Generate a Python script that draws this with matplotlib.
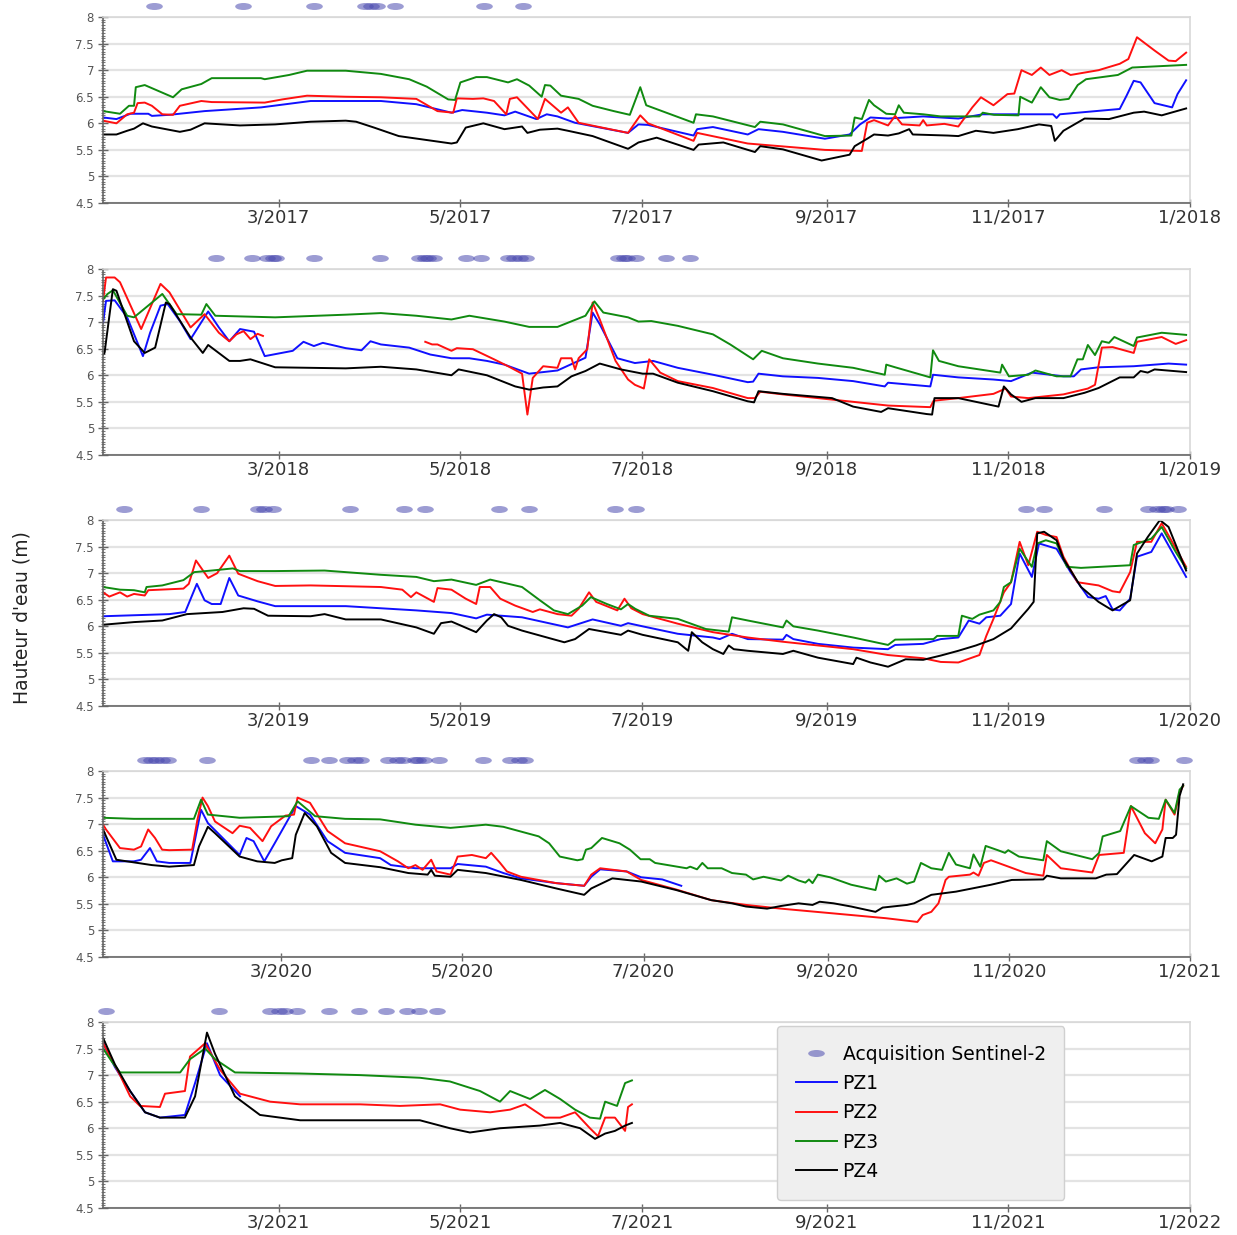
from datetime import datetime

import numpy as np
import matplotlib

matplotlib.use("Agg")
import matplotlib.pyplot as plt
import matplotlib.dates as mdates
from matplotlib.lines import Line2D
from matplotlib.path import Path
from matplotlib.ticker import FixedLocator, FuncFormatter, MultipleLocator
from matplotlib.transforms import Affine2D

nan = np.nan

# (day of year, water level in m)
pz1_2017 = [(0, 6.11), (4.5, 6.08), (9.2, 6.18), (15.2, 6.18), (16.4, 6.14), (22.3, 6.16), (34.1, 6.23),
            (53.1, 6.3), (69.7, 6.42), (93.3, 6.42), (105.2, 6.36), (117, 6.2), (120.6, 6.25), (128.9, 6.2),
            (134.8, 6.15), (138.4, 6.22), (145.5, 6.08), (149, 6.17), (152.6, 6.13), (158.5, 6.01),
            (176.3, 5.82), (179.8, 5.98), (183, 5.97), (198.3, 5.77), (199.5, 5.89), (204.8, 5.93),
            (216.5, 5.79), (220.1, 5.89), (228.3, 5.84), (242.4, 5.71), (250.7, 5.79), (254.2, 5.98),
            (257.7, 6.11), (263.6, 6.09), (275.4, 6.13), (287.2, 6.09), (295.4, 6.17), (310.7, 6.17),
            (319, 6.17), (320.2, 6.1), (321.3, 6.17), (341.4, 6.27), (343.7, 6.52), (346.1, 6.8),
            (348.4, 6.77), (353.1, 6.38), (359, 6.3), (360.8, 6.55), (363.7, 6.81)]
pz2_2017 = [(0, 6.05), (4.5, 6.0), (8.1, 6.17), (10.4, 6.2), (11.6, 6.38), (14, 6.39), (16.4, 6.33),
            (19.9, 6.17), (23.5, 6.16), (25.8, 6.33), (33, 6.42), (36.5, 6.4), (54.3, 6.39), (60.2, 6.45),
            (68.5, 6.52), (81.5, 6.5), (93.3, 6.49), (105.2, 6.46), (112.3, 6.23), (117.6, 6.2),
            (118.8, 6.47), (124.2, 6.46), (127.7, 6.47), (131.3, 6.42), (135.4, 6.17), (136.6, 6.46),
            (139, 6.49), (146, 6.08), (148.4, 6.46), (153.8, 6.2), (156.1, 6.3), (159.7, 6.01),
            (176.3, 5.82), (180.4, 6.15), (183, 6.0), (198.3, 5.67), (199.5, 5.82), (216.5, 5.62),
            (242.4, 5.5), (254.8, 5.48), (256.6, 6.01), (258.9, 6.06), (263.6, 5.96), (266, 6.14),
            (268.3, 5.98), (274.2, 5.96), (275.4, 6.06), (276.6, 5.96), (282.5, 5.99), (287.2, 5.94),
            (291.9, 6.3), (294.8, 6.49), (299, 6.34), (303.7, 6.55), (306, 6.56), (308.4, 7.0),
            (311.9, 6.91), (314.9, 7.05), (317.8, 6.91), (321.9, 7.0), (324.9, 6.91), (334.3, 7.0),
            (341.4, 7.12), (344.3, 7.21), (347.2, 7.62), (353.1, 7.37), (357.8, 7.18), (360.2, 7.17),
            (363.7, 7.33)]
pz3_2017 = [(0, 6.23), (5.7, 6.18), (8.7, 6.33), (10.4, 6.33), (11, 6.68), (14, 6.72), (23.5, 6.49),
            (26.4, 6.64), (33, 6.74), (36.5, 6.85), (53, 6.85), (54.3, 6.83), (62.5, 6.91), (68.5, 6.99),
            (81.5, 6.99), (93.3, 6.93), (102.8, 6.83), (108.7, 6.69), (115.9, 6.45), (118.2, 6.44),
            (120, 6.77), (125.3, 6.87), (128.9, 6.87), (136, 6.77), (139, 6.83), (143.1, 6.71),
            (147.3, 6.5), (148.4, 6.72), (150.2, 6.71), (153.8, 6.52), (159.7, 6.46), (164.4, 6.33),
            (171.5, 6.23), (176.9, 6.16), (180.4, 6.68), (182.4, 6.34), (198.3, 6.01), (199.1, 6.17),
            (204.8, 6.13), (218.9, 5.93), (220.7, 6.03), (228.3, 5.98), (242.4, 5.76), (251.3, 5.77),
            (252.4, 6.11), (254.8, 6.08), (257.2, 6.44), (258.9, 6.34), (263, 6.18), (266, 6.17),
            (267.2, 6.34), (268.9, 6.2), (275.4, 6.17), (281.3, 6.13), (294.3, 6.13), (295.4, 6.2),
            (299.2, 6.16), (307.4, 6.15), (308, 6.5), (311.9, 6.39), (314.9, 6.68), (317.8, 6.49),
            (321.3, 6.44), (324.3, 6.46), (327.3, 6.72), (330.1, 6.83), (340.8, 6.91), (345.6, 7.05),
            (363.7, 7.1)]
pz4_2017 = [(0, 5.79), (4.5, 5.79), (8.1, 5.86), (10.4, 5.9), (13.4, 6.0), (16.4, 5.94), (25.8, 5.84),
            (29.4, 5.88), (34.1, 6.0), (46, 5.96), (57.8, 5.98), (69.7, 6.03), (81.5, 6.05), (85, 6.03),
            (91, 5.92), (99.3, 5.76), (117, 5.62), (118.8, 5.64), (121.8, 5.92), (127.7, 6.0),
            (134.8, 5.89), (140.7, 5.94), (142.5, 5.82), (146.7, 5.88), (152.6, 5.9), (156.1, 5.86),
            (164.4, 5.76), (176.3, 5.52), (179.8, 5.64), (185.9, 5.73), (198.3, 5.5), (200, 5.6),
            (208.3, 5.64), (218.9, 5.46), (220.7, 5.57), (228.3, 5.51), (241.3, 5.3), (250.7, 5.41),
            (252.4, 5.57), (256.6, 5.71), (258.9, 5.79), (263.6, 5.77), (267.2, 5.81), (270.7, 5.89),
            (271.9, 5.79), (283.7, 5.77), (287.2, 5.76), (293.1, 5.86), (299, 5.82), (307.2, 5.89),
            (314.3, 5.98), (318.4, 5.95), (319.6, 5.67), (322.5, 5.86), (329.6, 6.09), (337.8, 6.08),
            (346.1, 6.2), (349.6, 6.22), (355.5, 6.15), (363.7, 6.28)]

pz1_2018 = [(0, 6.99), (1, 7.4), (3.9, 7.41), (8.1, 7.09), (13.4, 6.36), (15.8, 6.8), (19.3, 7.31),
            (21.7, 7.34), (25.8, 7.02), (29.4, 6.68), (35.3, 7.2), (38.9, 6.9), (42.4, 6.64), (46, 6.87),
            (50.7, 6.82), (54.3, 6.36), (63.7, 6.46), (67.3, 6.63), (70.8, 6.55), (73.8, 6.61),
            (81.5, 6.51), (86.8, 6.47), (89.8, 6.64), (93.3, 6.58), (102.8, 6.52), (109.9, 6.39),
            (117, 6.32), (123, 6.32), (128.9, 6.27), (134.8, 6.2), (143.1, 6.03), (152.6, 6.09),
            (162, 6.33), (164.4, 7.18), (166.8, 6.96), (172.7, 6.32), (178.6, 6.23), (184.7, 6.27),
            (193, 6.14), (204.8, 6.01), (216.5, 5.87), (218.3, 5.88), (220.1, 6.03), (228.3, 5.98),
            (240.1, 5.95), (251.9, 5.89), (262.5, 5.79), (263.6, 5.86), (277.8, 5.79), (278.7, 6.01),
            (287.2, 5.96), (299, 5.92), (304.9, 5.89), (311.9, 6.05), (322.5, 5.98), (326, 5.98),
            (328.4, 6.11), (334.3, 6.15), (346.1, 6.17), (357.8, 6.22), (363.7, 6.2)]
pz2_2018 = [(0, 7.4), (1, 7.84), (3.9, 7.84), (5.7, 7.75), (12.8, 6.87), (19.3, 7.72), (22.3, 7.56),
            (29.4, 6.9), (34.1, 7.15), (38.9, 6.8), (42.4, 6.64), (44.8, 6.77), (47.2, 6.83), (49.5, 6.68),
            (51.9, 6.78), (53.7, 6.74), (80, nan), (108.2, 6.63), (110.5, 6.58), (112.3, 6.58),
            (117, 6.46), (118.8, 6.51), (124.2, 6.49), (131.3, 6.3), (136, 6.17), (140.7, 6.03),
            (142.5, 5.26), (144.3, 5.95), (147.8, 6.17), (152.6, 6.14), (153.8, 6.32), (157.3, 6.32),
            (158.5, 6.11), (159.7, 6.32), (162.6, 6.49), (164.4, 7.37), (166.8, 7.05), (172.1, 6.27),
            (176.3, 5.92), (178.6, 5.82), (181.6, 5.75), (183.4, 6.3), (187.1, 6.05), (193, 5.89),
            (204.8, 5.76), (216.5, 5.57), (218.9, 5.57), (220.7, 5.69), (228.3, 5.64), (240.1, 5.57),
            (251.9, 5.5), (263.6, 5.43), (277.8, 5.4), (278.9, 5.52), (287.2, 5.57), (299, 5.65),
            (303.1, 5.75), (304.9, 5.6), (310.7, 5.57), (322.5, 5.64), (330.7, 5.75), (333.1, 5.82),
            (335.4, 6.52), (339, 6.53), (346.1, 6.42), (347.2, 6.63), (355.5, 6.72), (360.2, 6.59),
            (363.7, 6.66)]
pz3_2018 = [(0, 7.43), (1.5, 7.53), (3.3, 7.6), (8.1, 7.12), (10.4, 7.09), (19.9, 7.53), (24.7, 7.15),
            (33, 7.14), (34.7, 7.34), (37.7, 7.12), (57.8, 7.09), (81.5, 7.14), (93.3, 7.17), (105.2, 7.12),
            (117, 7.05), (123, 7.12), (134.8, 7.01), (143.1, 6.91), (152.6, 6.91), (162, 7.12),
            (165, 7.39), (168, 7.18), (176.3, 7.09), (179.8, 7.01), (184.1, 7.02), (193, 6.93),
            (204.8, 6.77), (210.6, 6.58), (218.3, 6.3), (221.2, 6.46), (228.3, 6.32), (240.1, 6.22),
            (251.9, 6.14), (262.5, 6.01), (263, 6.2), (266, 6.15), (277.8, 5.96), (278.7, 6.47),
            (280.7, 6.27), (287.2, 6.17), (301.3, 6.05), (301.9, 6.2), (304.2, 5.98), (310.7, 6.01),
            (313.1, 6.09), (320.2, 5.98), (324.9, 5.98), (327.2, 6.3), (329, 6.3), (330.7, 6.57),
            (333.1, 6.38), (335.4, 6.64), (337.8, 6.61), (339.6, 6.72), (346.1, 6.55), (347.2, 6.71),
            (355.5, 6.8), (363.7, 6.76)]
pz4_2018 = [(0, 6.39), (0.5, 6.42), (3.3, 7.62), (4.5, 7.59), (10.4, 6.64), (14, 6.42), (17.5, 6.52),
            (21.1, 7.37), (22.3, 7.34), (29.4, 6.71), (33.5, 6.42), (35.3, 6.57), (42.4, 6.27), (46, 6.27),
            (49.5, 6.3), (57.8, 6.15), (69.7, 6.14), (81.5, 6.13), (93.3, 6.16), (105.2, 6.11), (117, 6.0),
            (119.4, 6.11), (128.9, 6.0), (138.4, 5.79), (143.1, 5.73), (147.8, 5.77), (152.6, 5.79),
            (157.3, 5.98), (162, 6.08), (166.8, 6.22), (173.9, 6.11), (181.2, 6.03), (184.7, 6.03),
            (193, 5.86), (204.8, 5.7), (216.5, 5.51), (218.6, 5.49), (220.1, 5.7), (228.3, 5.65),
            (244.8, 5.57), (251.9, 5.41), (261.3, 5.31), (263.6, 5.38), (276.6, 5.27), (278.4, 5.26),
            (279.2, 5.57), (287.2, 5.57), (300.7, 5.41), (302.5, 5.79), (304.9, 5.64), (308.4, 5.5),
            (313.1, 5.57), (322.5, 5.57), (329.6, 5.67), (334.3, 5.76), (341.4, 5.96), (346.1, 5.96),
            (348.4, 6.08), (350.8, 6.05), (353.1, 6.11), (363.7, 6.06)]

pz1_2019 = [(0, 6.19), (22.3, 6.23), (27.6, 6.27), (31.5, 6.8), (34.1, 6.49), (36.5, 6.42), (39.5, 6.42),
            (42.4, 6.91), (45.4, 6.58), (51.9, 6.47), (57.8, 6.38), (81.5, 6.38), (105.2, 6.3), (117, 6.25),
            (125.3, 6.15), (128.9, 6.22), (140.7, 6.17), (156.1, 5.98), (164.4, 6.13), (173.9, 6.01),
            (176.3, 6.06), (181.2, 6.0), (193, 5.86), (204.8, 5.79), (207.1, 5.76), (211.2, 5.86),
            (216.5, 5.76), (228.3, 5.75), (229.5, 5.84), (231.8, 5.76), (240.1, 5.67), (251.9, 5.6),
            (263.6, 5.57), (266, 5.65), (275.4, 5.67), (281.3, 5.76), (287.2, 5.79), (290.7, 6.11),
            (294.3, 6.05), (296.6, 6.17), (301.3, 6.2), (304.9, 6.42), (307.8, 7.37), (311.9, 6.93),
            (314.3, 7.56), (320.2, 7.46), (324.9, 7.02), (330.8, 6.55), (334.3, 6.52), (336.7, 6.57),
            (339, 6.32), (341.4, 6.3), (344.9, 6.52), (347.2, 7.31), (352, 7.4), (355.5, 7.75),
            (363.7, 6.93)]
pz2_2019 = [(0, 6.64), (2.1, 6.56), (5.7, 6.64), (8.1, 6.56), (10.4, 6.61), (14, 6.58), (15.2, 6.68),
            (27, 6.71), (28.8, 6.8), (31.2, 7.24), (35.3, 6.91), (38.3, 7.0), (42.4, 7.33), (45.4, 6.99),
            (51.9, 6.85), (57.8, 6.76), (69.7, 6.77), (93.3, 6.74), (100.5, 6.69), (103.4, 6.55),
            (105.2, 6.64), (111.1, 6.46), (112.3, 6.72), (117, 6.69), (121.8, 6.52), (125.3, 6.42),
            (126.5, 6.74), (130, 6.74), (133.4, 6.52), (138.4, 6.39), (144.3, 6.27), (146.7, 6.32),
            (152.6, 6.23), (157.3, 6.2), (159.7, 6.33), (163.2, 6.64), (165.6, 6.46), (172.7, 6.3),
            (175.1, 6.52), (177.4, 6.34), (181.2, 6.23), (193, 6.05), (204.8, 5.89), (216.5, 5.79),
            (228.3, 5.71), (240.1, 5.64), (251.9, 5.57), (263.6, 5.46), (275.4, 5.4), (281.3, 5.33),
            (287.2, 5.32), (294.3, 5.46), (296.6, 5.82), (299, 6.14), (302.5, 6.64), (304.9, 6.83),
            (307.8, 7.59), (310.7, 7.15), (313.7, 7.78), (316.6, 7.72), (320.2, 7.68), (322.5, 7.31),
            (327.2, 6.83), (334.3, 6.77), (339, 6.66), (341.4, 6.64), (344.9, 7.02), (347.2, 7.59),
            (352, 7.59), (355.5, 7.94), (363.7, 7.12)]
pz3_2019 = [(0, 6.74), (5.7, 6.69), (10.4, 6.68), (14, 6.64), (14.6, 6.74), (19.9, 6.77), (27, 6.87),
            (30.6, 7.02), (36.5, 7.05), (43.6, 7.09), (46, 7.04), (57.8, 7.04), (74.4, 7.05), (81.5, 7.02),
            (93.3, 6.97), (105.2, 6.93), (111.1, 6.85), (117, 6.88), (125.3, 6.78), (130, 6.88),
            (140.7, 6.74), (146.7, 6.49), (151.4, 6.3), (156.1, 6.23), (160.9, 6.39), (163.8, 6.55),
            (169.2, 6.42), (173.9, 6.32), (176.3, 6.42), (178.7, 6.33), (183.4, 6.2), (193, 6.14),
            (202.4, 5.95), (210.1, 5.9), (211.2, 6.17), (216.5, 6.11), (228.3, 5.98), (229.5, 6.11),
            (231.8, 6.0), (240.1, 5.92), (251.9, 5.79), (263.6, 5.65), (266, 5.75), (278.9, 5.76),
            (280.1, 5.82), (287.2, 5.82), (288.4, 6.2), (291.9, 6.14), (294.3, 6.22), (299, 6.3),
            (301.3, 6.46), (302.5, 6.74), (304.9, 6.83), (307.8, 7.46), (311.9, 7.12), (313.7, 7.56),
            (316.6, 7.62), (320.2, 7.56), (323.7, 7.12), (328.4, 7.1), (344.9, 7.15), (346.1, 7.53),
            (352, 7.65), (355.5, 7.87), (360.2, 7.4), (363.7, 7.09)]
pz4_2019 = [(0, 6.03), (10.4, 6.08), (19.9, 6.11), (28.2, 6.23), (40.1, 6.27), (47.2, 6.34), (50.7, 6.33),
            (55.4, 6.2), (69.7, 6.19), (74.4, 6.23), (81.5, 6.13), (93.3, 6.13), (105.2, 5.98),
            (111.1, 5.86), (113.5, 6.06), (117, 6.09), (125.3, 5.89), (128.9, 6.11), (131.3, 6.23),
            (133.7, 6.17), (136, 6.01), (140.7, 5.92), (154.9, 5.7), (158.5, 5.76), (163.2, 5.95),
            (173.9, 5.84), (176.3, 5.92), (181.2, 5.84), (193, 5.7), (196.5, 5.54), (197.7, 5.89),
            (201.2, 5.7), (204.8, 5.57), (208.3, 5.48), (210.1, 5.64), (211.8, 5.57), (216.5, 5.54),
            (228.3, 5.48), (231.8, 5.54), (240.1, 5.41), (251.9, 5.29), (253, 5.41), (257.7, 5.32),
            (263.6, 5.24), (269.5, 5.38), (275.4, 5.37), (281.3, 5.45), (287.2, 5.54), (293.1, 5.64),
            (299, 5.76), (304.9, 5.96), (310.7, 6.33), (312.5, 6.46), (313.7, 7.75), (316, 7.78),
            (320.2, 7.62), (322.5, 7.27), (328.4, 6.74), (334.3, 6.46), (339, 6.3), (344.9, 6.49),
            (347.2, 7.37), (350.8, 7.68), (354.9, 8.0), (357.8, 7.87), (363.7, 7.05)]

pz1_2020 = [(0, 6.8), (3.3, 6.3), (10.4, 6.3), (12.8, 6.33), (15.8, 6.55), (18.1, 6.3), (22.3, 6.27),
            (29.4, 6.27), (33, 7.27), (35.3, 7.02), (46, 6.42), (48.3, 6.74), (50.7, 6.68), (54.3, 6.3),
            (57.8, 6.64), (64.9, 7.34), (69.7, 7.18), (75.6, 6.68), (81.5, 6.46), (93.3, 6.36),
            (96.9, 6.23), (105.2, 6.17), (117, 6.17), (119.4, 6.25), (128.9, 6.2), (134.8, 6.08),
            (140.7, 5.98), (152.6, 5.89), (162, 5.84), (164.4, 6.01), (167.4, 6.15), (176.3, 6.11),
            (181.2, 6.0), (188.3, 5.96), (194.7, 5.84)]
pz2_2020 = [(0, 6.99), (1, 6.9), (5.7, 6.55), (10.4, 6.52), (12.8, 6.58), (15.2, 6.9), (17.5, 6.74),
            (19.9, 6.52), (22.3, 6.51), (30, 6.52), (31.8, 7.09), (33.5, 7.5), (35.3, 7.34), (37.7, 7.05),
            (43.6, 6.83), (46, 6.97), (49.5, 6.93), (53.7, 6.68), (56.6, 6.96), (61.4, 7.16),
            (64.3, 7.18), (65.5, 7.5), (69.7, 7.4), (75.6, 6.87), (81.5, 6.64), (93.3, 6.49),
            (99.3, 6.3), (102.8, 6.17), (105.2, 6.23), (107.6, 6.14), (110.5, 6.33), (112.3, 6.11),
            (117, 6.05), (119.4, 6.39), (124.2, 6.42), (128.9, 6.36), (130.7, 6.46), (133.7, 6.27),
            (136, 6.11), (140.7, 6.01), (152.6, 5.89), (162, 5.84), (164.4, 6.05), (167.4, 6.17),
            (176.3, 6.11), (181.2, 5.95), (193, 5.77), (204.8, 5.57), (216.5, 5.48), (228.3, 5.41),
            (240.1, 5.35), (251.9, 5.29), (263.6, 5.23), (274.2, 5.16), (276, 5.29), (278.9, 5.35),
            (281.3, 5.51), (283.7, 5.95), (284.8, 6.01), (291.9, 6.05), (293.1, 6.09), (294.8, 6.03),
            (296.6, 6.27), (299, 6.32), (304.9, 6.2), (310.7, 6.08), (316.6, 6.03), (317.8, 6.42),
            (322.5, 6.17), (333.1, 6.09), (335.4, 6.42), (343.7, 6.46), (346.1, 7.34), (350.8, 6.83),
            (354.3, 6.64), (356.7, 6.9), (357.8, 7.46), (360.8, 7.18), (362.5, 7.59), (363.7, 7.72)]
pz3_2020 = [(0, 7.12), (10.4, 7.1), (30.6, 7.1), (33, 7.46), (35.3, 7.18), (46, 7.12), (57.8, 7.14),
            (62.5, 7.15), (65.5, 7.43), (71.4, 7.15), (81.5, 7.1), (93.3, 7.09), (105.2, 6.99), (117, 6.93),
            (128.9, 6.99), (134.8, 6.95), (146.7, 6.77), (150.2, 6.64), (153.8, 6.39), (159.7, 6.32),
            (161.5, 6.34), (162.6, 6.52), (164.4, 6.55), (168, 6.74), (173.9, 6.64), (177.4, 6.52),
            (181, 6.34), (184.1, 6.34), (185.9, 6.27), (196.5, 6.17), (197.7, 6.2), (200, 6.15),
            (201.8, 6.27), (203.6, 6.17), (208.3, 6.17), (211.8, 6.08), (216.5, 6.05), (218.9, 5.96),
            (222.4, 6.01), (228.3, 5.94), (230.7, 6.03), (234.2, 5.94), (236.5, 5.9), (237.7, 5.96),
            (238.9, 5.89), (240.7, 6.05), (244.8, 6.0), (251.9, 5.86), (260.1, 5.76), (261.3, 6.03),
            (263.6, 5.92), (267.2, 5.98), (270.7, 5.88), (273.1, 5.92), (275.4, 6.27), (278.9, 6.17),
            (282.5, 6.14), (284.8, 6.46), (287.2, 6.24), (291.9, 6.17), (293.1, 6.43), (295.4, 6.2),
            (297.2, 6.59), (301.3, 6.51), (303.7, 6.46), (304.8, 6.51), (308.4, 6.39), (316.6, 6.32),
            (317.8, 6.68), (322.5, 6.49), (333.1, 6.34), (335.4, 6.46), (336.6, 6.77), (342.5, 6.87),
            (346.1, 7.34), (352, 7.12), (355.5, 7.1), (357.8, 7.46), (360.8, 7.21), (362.5, 7.65),
            (363.7, 7.72)]
pz4_2020 = [(0, 6.9), (4.5, 6.33), (16.4, 6.23), (22.3, 6.2), (30.6, 6.23), (32.3, 6.58), (35.3, 6.95),
            (37.7, 6.83), (46, 6.39), (51.9, 6.3), (57.8, 6.27), (60.2, 6.32), (63.7, 6.36), (64.9, 6.8),
            (67.9, 7.21), (72, 6.96), (76.8, 6.46), (81.5, 6.27), (93.3, 6.19), (102.8, 6.08),
            (109.3, 6.05), (110.5, 6.14), (111.7, 6.03), (117, 6.01), (119.4, 6.14), (128.9, 6.08),
            (140.7, 5.95), (152.6, 5.79), (162, 5.67), (164.4, 5.79), (171.5, 5.98), (181.2, 5.92),
            (193, 5.76), (204.8, 5.57), (211.8, 5.51), (216.5, 5.45), (223.6, 5.41), (228.3, 5.46),
            (234.2, 5.51), (238.9, 5.48), (241.3, 5.54), (246, 5.51), (251.9, 5.45), (260.1, 5.35),
            (262.5, 5.43), (270.7, 5.48), (273.1, 5.51), (278.9, 5.67), (287.2, 5.73), (299, 5.86),
            (306, 5.95), (316.6, 5.96), (317.8, 6.03), (322.5, 5.98), (334.3, 5.98), (337.8, 6.05),
            (341.4, 6.06), (347.2, 6.42), (353.1, 6.3), (356.7, 6.39), (357.8, 6.74), (360.2, 6.74),
            (361.3, 6.8), (362.5, 7.53), (363.7, 7.75)]

pz1_2021 = [(0, 7.6), (4, 7.15), (9.1, 6.7), (14.1, 6.3), (19.1, 6.2), (27.5, 6.25), (30.9, 6.85),
            (34.9, 7.6), (39.3, 7.0), (46, 6.6)]
pz2_2021 = [(0, 7.6), (5.7, 7.0), (9.1, 6.6), (12.4, 6.42), (19.1, 6.4), (20.8, 6.65), (27.5, 6.7),
            (29.2, 7.35), (34.3, 7.6), (39.3, 7.1), (46, 6.65), (56.1, 6.5), (66.2, 6.45), (86.3, 6.45),
            (99.7, 6.42), (113.2, 6.45), (119.9, 6.35), (130, 6.3), (136.7, 6.35), (141.7, 6.45),
            (148.4, 6.2), (153.5, 6.2), (158.5, 6.3), (163.5, 6.0), (166.2, 5.85), (168.6, 6.2),
            (171.9, 6.2), (175.3, 5.95), (176.3, 6.4), (177.6, 6.45)]
pz3_2021 = [(0, 7.5), (3, 7.25), (5.7, 7.05), (25.9, 7.05), (29.2, 7.3), (34.3, 7.5), (37.6, 7.3),
            (44.3, 7.05), (66.2, 7.03), (86.3, 7.0), (106.4, 6.95), (116.5, 6.88), (126.6, 6.7),
            (133.3, 6.5), (136.7, 6.7), (143.4, 6.55), (148.4, 6.72), (153.5, 6.55), (158.5, 6.35),
            (163.5, 6.2), (166.9, 6.18), (168.6, 6.5), (172.6, 6.42), (175.3, 6.85), (177.6, 6.9)]
pz4_2021 = [(0, 7.7), (4, 7.2), (9.1, 6.7), (14.1, 6.3), (19.1, 6.2), (27.5, 6.2), (30.9, 6.6),
            (34.9, 7.8), (37.6, 7.4), (44.3, 6.6), (52.7, 6.25), (66.2, 6.15), (86.3, 6.15), (106.4, 6.15),
            (116.5, 6.0), (123.2, 5.92), (133.3, 6.0), (146.7, 6.05), (153.5, 6.1), (160.2, 6.0),
            (165.2, 5.8), (168.6, 5.9), (171.9, 5.95), (175.3, 6.05), (177.6, 6.1)]

# Sentinel-2 acquisition days (day of year)
s2_2017 = [17, 47, 71, 88, 90, 92, 98, 128, 141]
s2_2018 = [38, 50, 55, 57, 58, 71, 93, 106, 108, 109, 111, 122, 127, 136, 138, 140, 142,
           173, 175, 176, 179, 189, 197]
s2_2019 = [7, 33, 52, 54, 57, 83, 101, 108, 133, 143, 172, 179, 310, 316, 336, 351, 354, 356, 357, 361]
s2_2020 = [14, 16, 18, 20, 22, 35, 70, 76, 82, 85, 87, 96, 99, 101, 105, 106, 108, 113, 128,
           137, 140, 142, 348, 351, 353, 364]
s2_2021 = [1, 39, 56, 59, 61, 65, 76, 86, 95, 102, 106, 112]

years = [2017, 2018, 2019, 2020, 2021]
series_names = ["PZ1", "PZ2", "PZ3", "PZ4"]
series_colors = ["#1010ff", "#ff1010", "#108a10", "#000000"]

data = {
    2017: [pz1_2017, pz2_2017, pz3_2017, pz4_2017],
    2018: [pz1_2018, pz2_2018, pz3_2018, pz4_2018],
    2019: [pz1_2019, pz2_2019, pz3_2019, pz4_2019],
    2020: [pz1_2020, pz2_2020, pz3_2020, pz4_2020],
    2021: [pz1_2021, pz2_2021, pz3_2021, pz4_2021],
}
acquisitions = {2017: s2_2017, 2018: s2_2018, 2019: s2_2019, 2020: s2_2020, 2021: s2_2021}

S2_COLOR = "#4b4bb0"
ellipse = Path.unit_circle().transformed(Affine2D().scale(1, 0.42))


def month_label(x, pos):
    d = mdates.num2date(x)
    return f"{d.month}/{d.year}"


def draw_year(ax, year):
    t0 = mdates.date2num(datetime(year, 1, 1))
    t1 = mdates.date2num(datetime(year + 1, 1, 1))
    for pts, name, color in zip(data[year], series_names, series_colors):
        arr = np.array(pts, dtype=float)
        ax.plot(t0 + arr[:, 0], arr[:, 1], color=color, lw=1.4, label=name)
    s2 = np.array(acquisitions[year], dtype=float)
    ax.plot(t0 + s2, np.full(len(s2), 1.058), transform=ax.get_xaxis_transform(),
            ls="none", marker=ellipse, ms=12, color=S2_COLOR, alpha=0.55, mew=0, clip_on=False)

    ax.set_xlim(t0, t1)
    ax.set_ylim(4.5, 8)
    ticks = [mdates.date2num(datetime(year, m, 1)) for m in (3, 5, 7, 9, 11)] + [t1]
    ax.xaxis.set_major_locator(FixedLocator(ticks))
    ax.xaxis.set_major_formatter(FuncFormatter(month_label))
    ax.yaxis.set_major_locator(MultipleLocator(0.5))
    ax.yaxis.set_minor_locator(MultipleLocator(0.05))
    ax.yaxis.set_major_formatter(FuncFormatter(lambda v, p: f"{v:g}"))

    ax.grid(axis="y", color="#e3e3e3", lw=1.6)
    ax.set_axisbelow(True)
    for side in ("left", "bottom"):
        ax.spines[side].set_color("#666666")
        ax.spines[side].set_linewidth(1.2)
    for side in ("top", "right"):
        ax.spines[side].set_color("#d8d8d8")
        ax.spines[side].set_linewidth(1.2)
    ax.tick_params(axis="x", direction="inout", length=6, width=1, colors="#666666",
                   labelsize=13, labelcolor="#333333", pad=1)
    ax.tick_params(axis="y", which="major", direction="inout", length=7, width=1,
                   colors="#666666", labelsize=8.5, labelcolor="#555555", pad=3)
    ax.tick_params(axis="y", which="minor", direction="inout", length=3.5, width=0.8,
                   colors="#777777")


fig = plt.figure(figsize=(12.37, 12.35), dpi=100)
panel_bottoms = [0.8356, 0.6316, 0.4283, 0.2251, 0.0219]
axes = []
for year, bottom in zip(years, panel_bottoms):
    ax = fig.add_axes([0.0833, bottom, 0.8787, 0.1506])
    draw_year(ax, year)
    axes.append(ax)

fig.text(0.018, 0.5, "Hauteur d'eau (m)", rotation=90, va="center", ha="center",
         fontsize=13.5, color="#222222")

handles = [Line2D([], [], ls="none", marker=ellipse, ms=12, color=S2_COLOR, alpha=0.55, mew=0)]
handles += [Line2D([], [], color=c, lw=1.4) for c in series_colors]
labels = ["Acquisition Sentinel-2"] + series_names
leg = axes[-1].legend(handles, labels, loc="lower left", bbox_to_anchor=(0.62, 0.045),
                      fontsize=13.5, frameon=True, facecolor="#efefef", edgecolor="#d0d0d0",
                      framealpha=1, handlelength=2.2, handletextpad=0.3, labelspacing=0.55,
                      borderpad=1.0, borderaxespad=0)
leg.get_frame().set_linewidth(1.0)

fig.savefig("out.png", dpi=100)
